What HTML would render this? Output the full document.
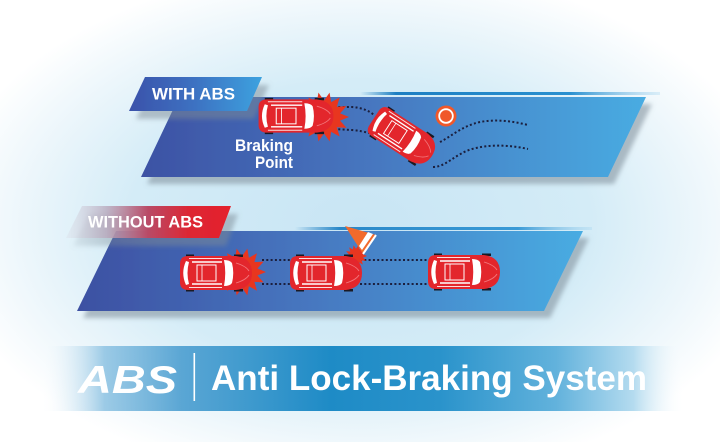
<!DOCTYPE html>
<html>
<head>
<meta charset="utf-8">
<style>
html,body{margin:0;padding:0;background:#fff;}
svg{display:block;}
</style>
</head>
<body>
<svg width="720" height="442" viewBox="0 0 720 442" xmlns="http://www.w3.org/2000/svg">
<defs>
  <radialGradient id="bg" cx="360" cy="225" r="420" gradientUnits="userSpaceOnUse" gradientTransform="translate(360 225) scale(1 0.62) translate(-360 -225)">
    <stop offset="0" stop-color="#c8e5f4"/>
    <stop offset="0.55" stop-color="#d4ecf7"/>
    <stop offset="0.8" stop-color="#ecf6fb"/>
    <stop offset="1" stop-color="#ffffff"/>
  </radialGradient>
  <linearGradient id="p1" x1="141" y1="0" x2="646" y2="0" gradientUnits="userSpaceOnUse">
    <stop offset="0" stop-color="#3d52a4"/>
    <stop offset="0.45" stop-color="#4676bf"/>
    <stop offset="1" stop-color="#48ace2"/>
  </linearGradient>
  <linearGradient id="p2" x1="77" y1="0" x2="583" y2="0" gradientUnits="userSpaceOnUse">
    <stop offset="0" stop-color="#3d50a2"/>
    <stop offset="0.45" stop-color="#4676bf"/>
    <stop offset="1" stop-color="#48ace2"/>
  </linearGradient>
  <linearGradient id="l1" x1="129" y1="0" x2="262" y2="0" gradientUnits="userSpaceOnUse">
    <stop offset="0" stop-color="#3a52aa"/>
    <stop offset="0.5" stop-color="#3d72c2"/>
    <stop offset="1" stop-color="#3ea2df"/>
  </linearGradient>
  <linearGradient id="l2" x1="65" y1="0" x2="231" y2="0" gradientUnits="userSpaceOnUse">
    <stop offset="0" stop-color="#d8d8e2" stop-opacity="0.25"/>
    <stop offset="0.25" stop-color="#b8a8bc" stop-opacity="0.8"/>
    <stop offset="0.5" stop-color="#b94a66"/>
    <stop offset="0.75" stop-color="#dd2633"/>
    <stop offset="1" stop-color="#e4222c"/>
  </linearGradient>
  <linearGradient id="ln1" x1="360" y1="0" x2="660" y2="0" gradientUnits="userSpaceOnUse">
    <stop offset="0" stop-color="#1d7fc2" stop-opacity="0"/>
    <stop offset="0.12" stop-color="#1d7fc2"/>
    <stop offset="0.7" stop-color="#2a90d0"/>
    <stop offset="1" stop-color="#9fd2ee" stop-opacity="0.3"/>
  </linearGradient>
  <linearGradient id="ln2" x1="295" y1="0" x2="592" y2="0" gradientUnits="userSpaceOnUse">
    <stop offset="0" stop-color="#1d7fc2" stop-opacity="0"/>
    <stop offset="0.15" stop-color="#2a88c8"/>
    <stop offset="0.75" stop-color="#3a9ad6"/>
    <stop offset="1" stop-color="#9fd2ee" stop-opacity="0.3"/>
  </linearGradient>
  <linearGradient id="bn" x1="40" y1="0" x2="685" y2="0" gradientUnits="userSpaceOnUse">
    <stop offset="0" stop-color="#ffffff" stop-opacity="0"/>
    <stop offset="0.1" stop-color="#8cc2e2" stop-opacity="0.85"/>
    <stop offset="0.22" stop-color="#5aa6d4"/>
    <stop offset="0.45" stop-color="#1e8bc6"/>
    <stop offset="0.62" stop-color="#2a93cb"/>
    <stop offset="0.8" stop-color="#62b2dc"/>
    <stop offset="0.92" stop-color="#b4dbef"/>
    <stop offset="1" stop-color="#ffffff" stop-opacity="0"/>
  </linearGradient>
  <filter id="sh" x="-10%" y="-20%" width="125%" height="150%">
    <feDropShadow dx="6" dy="7" stdDeviation="2.5" flood-color="#7b8a96" flood-opacity="0.55"/>
  </filter>
  <filter id="sh2" x="-10%" y="-30%" width="130%" height="180%">
    <feDropShadow dx="7" dy="8" stdDeviation="2.5" flood-color="#7b8a96" flood-opacity="0.5"/>
  </filter>
  <g id="car">
    <rect x="-30" y="-18.5" width="8" height="2.5" fill="#1a1a24"/>
    <rect x="-30" y="16" width="8" height="2.5" fill="#1a1a24"/>
    <rect x="18" y="-18.5" width="9" height="2.5" fill="#1a1a24"/>
    <rect x="18" y="16" width="9" height="2.5" fill="#1a1a24"/>
    <path d="M-28,-17 L20,-17 Q36,-15 36,0 Q36,15 20,17 L-28,17 Q-36,17 -36,9 L-36,-9 Q-36,-17 -28,-17 Z" fill="#e3262c"/>
    <path d="M-27,-14.5 L6,-14.5 M-27,14.5 L6,14.5" stroke="#ffffff" stroke-width="1" opacity="0.85"/>
    <path d="M-30,-12 Q-35.5,0 -30,12 L-27,11 Q-30,0 -27,-11 Z" fill="#ffffff"/>
    <path d="M-24,-11 L6,-11 M-24,11 L6,11" stroke="#ffffff" stroke-width="1.4"/>
    <rect x="-19" y="-8" width="19" height="16" fill="none" stroke="#ffffff" stroke-width="1"/>
    <path d="M-14,-8 L-14,8" stroke="#ffffff" stroke-width="0.8"/>
    <path d="M8,-13 Q14,-13 16,-10 Q18.5,0 16,10 Q14,13 8,13 Q10.5,0 8,-13 Z" fill="#ffffff"/>
    <path d="M20,-10 Q30,-7 33,-2 M20,10 Q30,7 33,2" stroke="#f2757a" stroke-width="0.9" fill="none"/>
  </g>
  <polygon id="star" points="1,0 0.643,0.147 0.901,0.434 0.516,0.412 0.624,0.782 0.286,0.595 0.2225,0.975 0,0.66 -0.2225,0.975 -0.286,0.595 -0.624,0.782 -0.516,0.412 -0.901,0.434 -0.643,0.147 -1,0 -0.643,-0.147 -0.901,-0.434 -0.516,-0.412 -0.624,-0.782 -0.286,-0.595 -0.2225,-0.975 0,-0.66 0.2225,-0.975 0.286,-0.595 0.624,-0.782 0.516,-0.412 0.901,-0.434 0.643,-0.147" fill="#e8361f"/>
</defs>

<!-- background -->
<rect x="0" y="0" width="720" height="442" fill="#ffffff"/>
<rect x="0" y="0" width="720" height="442" fill="url(#bg)"/>

<!-- top panel -->
<rect x="360" y="92" width="300" height="3" fill="url(#ln1)"/>
<polygon points="179,97 646,97 608,177 141,177" fill="url(#p1)" filter="url(#sh)"/>

<!-- WITH ABS label -->
<polygon points="145,77 262,77 247,111 129,111" fill="url(#l1)" filter="url(#sh2)"/>
<text x="152" y="99.5" font-family="Liberation Sans, sans-serif" font-weight="bold" font-size="16.5" fill="#ffffff" textLength="83" lengthAdjust="spacingAndGlyphs">WITH ABS</text>

<!-- top panel contents -->
<g fill="none" stroke="#1b1f3e" stroke-width="2" stroke-dasharray="2 2.3">
  <path d="M334,107 L352,107 Q366,108 374,115"/>
  <path d="M334,129 L352,130 Q362,131 369,133"/>
  <path d="M440,142 C452,136 462,126 480,122 C496,119 512,121 528,125"/>
  <path d="M433,167 C446,167 455,154 472,149 C490,144 510,145 528,149"/>
</g>
<use href="#star" transform="translate(324 117) scale(25)"/>
<use href="#car" transform="translate(296 116) scale(1.04 0.98)"/>
<use href="#car" transform="translate(403 137) rotate(33) scale(0.96)"/>
<circle cx="446" cy="116" r="10.5" fill="#f0582a"/>
<circle cx="446" cy="116" r="6.8" fill="none" stroke="#ffffff" stroke-width="1.8"/>

<text x="293" y="151" text-anchor="end" font-family="Liberation Sans, sans-serif" font-weight="bold" font-size="16.5" fill="#ffffff" textLength="58" lengthAdjust="spacingAndGlyphs">Braking</text>
<text x="293" y="168" text-anchor="end" font-family="Liberation Sans, sans-serif" font-weight="bold" font-size="16.5" fill="#ffffff" textLength="38" lengthAdjust="spacingAndGlyphs">Point</text>

<!-- bottom panel -->
<rect x="295" y="227" width="297" height="3" fill="url(#ln2)"/>
<polygon points="116,231 583,231 544,311 77,311" fill="url(#p2)" filter="url(#sh)"/>

<!-- WITHOUT ABS label -->
<polygon points="82,206 231,206 219,238 66,238" fill="url(#l2)" filter="url(#sh2)"/>
<text x="88" y="227.5" font-family="Liberation Sans, sans-serif" font-weight="bold" font-size="16.5" fill="#ffffff" textLength="115" lengthAdjust="spacingAndGlyphs">WITHOUT ABS</text>

<!-- bottom panel contents -->
<g fill="none" stroke="#1b1f3e" stroke-width="2" stroke-dasharray="2 2.3">
  <path d="M262,260 L292,260"/>
  <path d="M262,284 L292,284"/>
  <path d="M360,260 L430,260"/>
  <path d="M360,284 L430,284"/>
</g>
<use href="#star" transform="translate(242 272) scale(24)"/>
<use href="#car" transform="translate(216 273)"/>
<use href="#star" transform="translate(356 256) scale(11)"/>
<use href="#car" transform="translate(326 273)"/>
<use href="#car" transform="translate(464 272)"/>
<!-- cone -->
<polygon points="345,226 376,235 363,254" fill="#f26a2c"/>
<polygon points="368,232 373,234 362,250 359,246" fill="#ffffff"/>
<path d="M376,235 L363,254" stroke="#ffffff" stroke-width="2"/>

<!-- bottom banner -->
<rect x="40" y="346" width="645" height="65" fill="url(#bn)"/>
<text x="78" y="393" font-family="Liberation Sans, sans-serif" font-weight="bold" font-style="italic" font-size="39" fill="#ffffff" textLength="99" lengthAdjust="spacingAndGlyphs">ABS</text>
<rect x="193.5" y="353" width="1.6" height="48" fill="#ffffff"/>
<text x="211" y="390" font-family="Liberation Sans, sans-serif" font-weight="bold" font-size="35" fill="#ffffff" textLength="436" lengthAdjust="spacingAndGlyphs">Anti Lock-Braking System</text>
</svg>
</body>
</html>
